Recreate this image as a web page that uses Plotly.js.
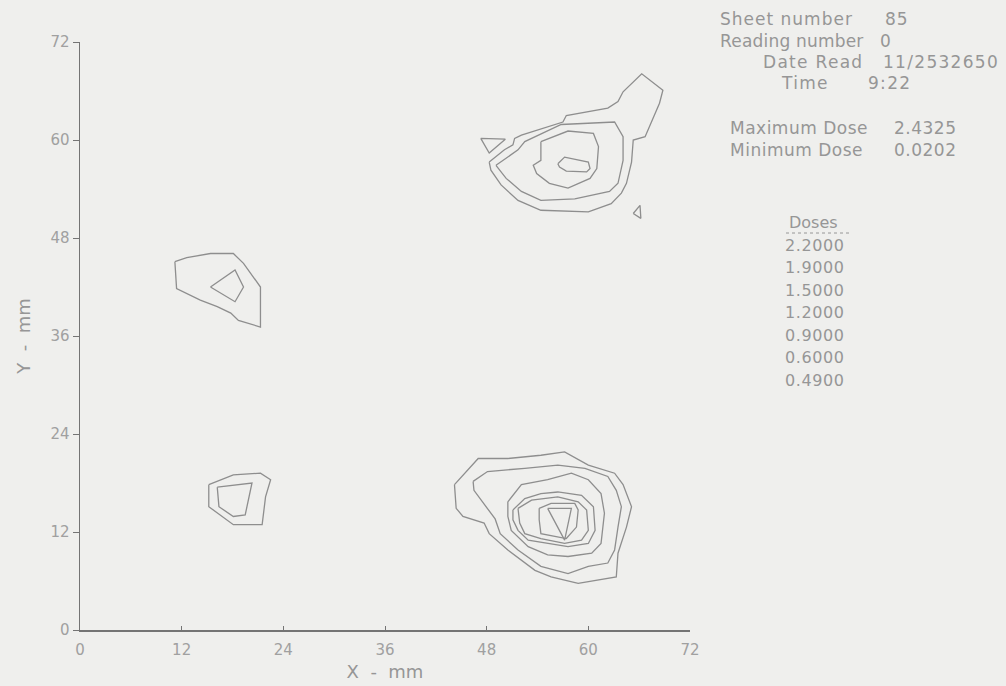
<!DOCTYPE html>
<html>
<head>
<meta charset="utf-8">
<script src="https://cdn.plot.ly/plotly-3.0.1.min.js"></script>
<style>html,body{margin:0;padding:0;background:#efefed;}</style>
</head>
<body>
<div id="chart" style="width:1006px;height:686px;"></div>
<script>
// ---- axis ticks ----
const tickValues = [0, 12, 24, 36, 48, 60, 72];

// ---- header info ----
const sheetNumber = "85";
const readingNumber = "0";
const dateRead = "11/2532650";
const timeRead = "9:22";
const maxDose = "2.4325";
const minDose = "0.0202";
const doseLevels = ["2.2000", "1.9000", "1.5000", "1.2000", "0.9000", "0.6000", "0.4900"];

// ---- contour paths, [x mm, y mm] ----
// upper-right spot
const trLevel049 = [[48.3,57.3],[50.1,58.8],[51.1,59.4],[51.3,60.2],[52.1,60.6],[57.0,62.2],[57.4,63.0],[62.3,63.9],[63.5,64.7],[64.1,65.9],[66.3,68.1],[68.8,66.1],[68.4,64.5],[66.7,60.4],[65.3,60.0],[65.1,57.3],[64.5,54.7],[63.9,53.5],[62.7,52.2],[60.0,51.2],[54.4,51.4],[51.7,52.6],[49.7,54.5],[48.5,56.3],[48.3,57.3]];
const trLevel060 = [[49.1,56.9],[51.7,58.8],[52.5,59.8],[56.8,61.9],[63.1,62.2],[64.1,60.4],[64.1,57.5],[63.5,54.7],[62.5,53.7],[58.4,52.8],[54.4,52.6],[52.1,53.7],[50.3,55.3],[49.1,56.9]];
const trLevel090 = [[54.4,59.8],[57.6,61.1],[60.6,60.8],[61.2,59.2],[61.0,56.5],[60.2,55.3],[57.6,54.1],[55.4,54.7],[53.9,55.9],[53.5,56.9],[54.4,57.5],[54.4,59.8]];
const trLevel120 = [[56.4,57.1],[57.2,57.9],[60.0,57.3],[60.2,56.5],[59.8,56.1],[57.4,56.2],[56.6,56.7],[56.4,57.1]];
const trIslandA = [[47.3,60.2],[50.2,60.1],[48.3,58.4],[47.3,60.2]];
const trIslandB = [[65.3,51.0],[66.1,52.0],[66.2,50.4],[65.3,51.0]];
// upper-left spot
const ulLevel049 = [[11.2,45.1],[12.6,45.6],[15.4,46.1],[18.1,46.1],[19.3,44.9],[21.3,42.0],[21.3,37.1],[18.7,37.9],[17.8,38.8],[16.2,39.6],[14.2,40.4],[11.4,41.8],[11.2,45.1]];
const ulLevel060 = [[15.4,42.0],[18.3,44.1],[19.3,42.0],[18.3,40.2],[15.4,42.0]];
// lower-left spot
const llLevel049 = [[15.2,17.8],[18.1,19.0],[21.3,19.2],[22.5,18.4],[21.9,16.3],[21.5,12.9],[18.1,12.9],[15.8,14.7],[15.2,15.1],[15.2,17.8]];
const llLevel060 = [[16.2,17.5],[20.3,18.0],[19.5,14.1],[18.1,13.9],[16.4,15.1],[16.2,17.5]];
// lower-right spot
const lrLevel049 = [[44.2,17.8],[47.0,21.0],[50.5,21.0],[54.4,21.4],[57.2,21.8],[60.0,20.2],[63.1,19.2],[64.1,17.8],[65.1,15.1],[64.5,12.6],[63.5,9.4],[63.3,6.5],[58.8,5.7],[55.6,6.5],[53.7,7.3],[50.5,9.8],[48.3,11.8],[47.7,13.1],[45.2,13.9],[44.4,14.9],[44.2,17.8]];
const lrLevel060 = [[46.4,18.2],[48.1,19.4],[52.5,19.8],[56.4,20.2],[59.6,19.8],[62.3,18.8],[63.3,17.1],[63.9,15.1],[63.5,12.6],[63.1,9.8],[62.3,8.2],[60.0,7.8],[57.6,6.9],[54.4,7.8],[51.7,9.8],[49.6,11.8],[49.0,13.6],[46.5,17.1],[46.4,18.2]];
const lrLevel090 = [[50.5,15.7],[52.1,17.8],[55.2,18.4],[58.0,19.2],[60.0,18.4],[61.5,16.7],[61.9,14.3],[61.5,10.6],[60.4,9.4],[57.6,9.0],[55.2,9.2],[52.9,10.2],[50.9,12.2],[50.5,13.9],[50.5,15.7]];
const lrLevel120 = [[51.1,14.7],[52.5,16.1],[54.4,16.7],[56.4,16.9],[59.2,16.5],[60.6,15.1],[60.8,12.2],[60.0,10.6],[57.6,10.2],[55.2,10.6],[52.9,11.0],[51.7,12.2],[51.1,13.5],[51.1,14.7]];
const lrLevel150 = [[51.7,14.9],[53.3,15.9],[56.4,16.3],[58.8,15.7],[59.8,14.7],[60.0,12.2],[59.2,11.0],[57.2,10.6],[54.4,11.2],[52.5,11.8],[51.9,13.1],[51.7,14.9]];
const lrLevel190 = [[54.2,14.9],[55.6,15.5],[58.4,15.5],[58.8,14.7],[58.6,12.6],[57.4,11.2],[54.4,11.8],[54.2,13.5],[54.2,14.9]];
const lrLevel220 = [[55.2,14.9],[58.0,14.9],[57.2,11.0],[55.2,14.9]];

const paths = [trLevel049, trLevel060, trLevel090, trLevel120, trIslandA, trIslandB,
  ulLevel049, ulLevel060, llLevel049, llLevel060,
  lrLevel049, lrLevel060, lrLevel090, lrLevel120, lrLevel150, lrLevel190, lrLevel220];

const lineColor = '#8e8e8e';
const textColor = '#969696';
const tickTextColor = '#a0a0a0';
const axisColor = '#747474';
const FONT = 'DejaVu Sans, sans-serif';

const traces = paths.map(p => ({
  type: 'scatter', mode: 'lines',
  x: p.map(q => q[0]), y: p.map(q => q[1]),
  line: {color: lineColor, width: 1.3},
  hoverinfo: 'skip', showlegend: false
}));

// paper-coordinate helpers for the text block (plot area is 610 x 588 px)
const PW = 610, PH = 588, L = 80, T = 42;
const px = v => (v - L) / PW;
const py = v => (T + PH - v) / PH;

function ann(text, x, y, anchor, size, spacing) {
  return {text: '<span style="letter-spacing:' + spacing + 'px">' + text + '</span>',
    xref: 'paper', yref: 'paper', x: px(x), y: py(y),
    xanchor: anchor, yanchor: 'middle', showarrow: false,
    font: {family: FONT, size: size, color: textColor}};
}

const annotations = [
  ann('Sheet number', 718, 19, 'left', 17, 1.0),
  ann(sheetNumber, 911, 19, 'right', 17, 1.0),
  ann('Reading number', 718, 41, 'left', 17, 0.2),
  ann(readingNumber, 878, 41, 'left', 17, 0),
  ann('Date Read', 761, 62, 'left', 17, 1.3),
  ann(dateRead, 1001, 62, 'right', 17, 1.3),
  ann('Time', 779, 83, 'left', 17, 1.3),
  ann(timeRead, 866, 83, 'left', 17, 1.3),
  ann('Maximum Dose', 728, 128, 'left', 17, 0.5),
  ann(maxDose, 958, 128, 'right', 17, 0.5),
  ann('Minimum Dose', 728, 150, 'left', 17, 0.5),
  ann(minDose, 958, 150, 'right', 17, 0.5),
  ann('Doses', 787, 222, 'left', 16, 0)
];
doseLevels.forEach((d, i) => annotations.push(ann(d, 783, 245 + i * 22.6, 'left', 16, 0.6)));

const layout = {
  width: 1006, height: 686,
  margin: {l: L, r: 1006 - L - PW, t: T, b: 686 - T - PH, pad: 0},
  paper_bgcolor: '#efefed', plot_bgcolor: '#efefed',
  font: {family: FONT, color: textColor},
  showlegend: false,
  xaxis: {
    range: [0, 72], tickvals: tickValues, ticktext: tickValues.map(String),
    showline: true, linecolor: axisColor, linewidth: 1.5, mirror: false,
    ticks: 'inside', ticklen: 4, tickcolor: axisColor, tickwidth: 1,
    ticklabelstandoff: 5,
    showgrid: false, zeroline: false, fixedrange: true,
    tickfont: {family: FONT, size: 15, color: tickTextColor},
    title: {text: 'X  -  mm', font: {family: FONT, size: 18, color: textColor}, standoff: 8}
  },
  yaxis: {
    range: [0, 72], tickvals: tickValues, ticktext: tickValues.map(String),
    showline: true, linecolor: axisColor, linewidth: 1.5, mirror: false,
    ticks: 'outside', ticklen: 6, tickcolor: axisColor, tickwidth: 1,
    showgrid: false, zeroline: false, fixedrange: true,
    tickfont: {family: FONT, size: 15, color: tickTextColor},
    title: {text: 'Y  -  mm', font: {family: FONT, size: 18, color: textColor}, standoff: 15}
  },
  annotations: annotations,
  shapes: [{
    type: 'line', xref: 'paper', yref: 'paper',
    x0: px(786), x1: px(849), y0: py(233), y1: py(233),
    line: {color: textColor, width: 1, dash: 'dot'}
  }]
};

Plotly.newPlot('chart', traces, layout, {staticPlot: true, displayModeBar: false});
</script>
</body>
</html>
